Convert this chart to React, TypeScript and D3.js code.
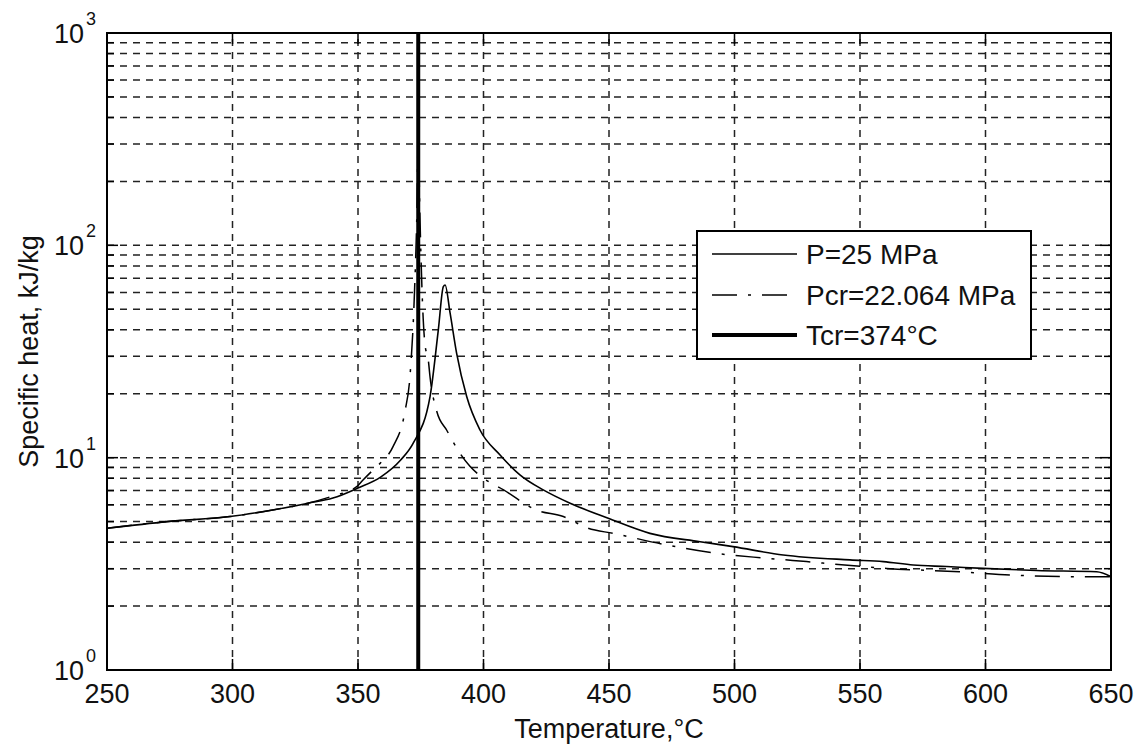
import React from "react";
import * as d3 from "d3";

const xTicks = [250, 300, 350, 400, 450, 500, 550, 600, 650];
const yMajor = [1, 10, 100, 1000];
const yExp = ["0", "1", "2", "3"];

const tP25 = [250, 274, 299, 316, 330, 340, 350, 359, 367, 372, 378.7, 382, 384, 384.7, 386.7, 389.3, 393.3, 398.6, 406.6, 414.5, 423.8, 434.5, 449.7, 466.3, 486.3, 499.4, 519.4, 546, 559.3, 571.2, 584.5, 599.1, 620.4, 644.3, 650];
const cpP25 = [4.65, 5.0, 5.28, 5.67, 6.1, 6.45, 7.2, 8.1, 9.75, 11.7, 19.4, 40, 63.9, 65, 47.9, 31, 19.4, 13.5, 10.3, 8.3, 7.05, 6.1, 5.18, 4.4, 4.02, 3.81, 3.48, 3.3, 3.24, 3.12, 3.07, 3.01, 2.94, 2.9, 2.75];

const tPcr = [250, 274, 299, 316, 330, 340, 349.5, 352, 357.4, 358.8, 364, 368.7, 370.7, 372.5, 373.5, 374, 374.6, 375.8, 376.7, 378, 378.7, 381.4, 385.3, 390.6, 394.6, 400, 408, 421, 431.8, 441.7, 451.7, 473, 492.9, 512.8, 528.7, 560.6, 589.8, 611, 638.9, 650];
const cpPcr = [4.65, 5.0, 5.28, 5.67, 6.1, 6.6, 7.3, 7.85, 9.07, 9.4, 11.3, 16.5, 24.1, 60, 150, 330, 150, 50, 34, 28.9, 24, 16.5, 13.5, 10.5, 9.1, 8.0, 7.05, 5.67, 5.28, 4.65, 4.4, 3.88, 3.54, 3.36, 3.24, 3.01, 2.9, 2.8, 2.75, 2.75];

const tCritical = 374;
const legendLabels = ["P=25 MPa", "Pcr=22.064 MPa", "Tcr=374°C"];
const xLabel = "Temperature,°C";
const yLabel = "Specific heat, kJ/kg";

const FONT = "'Liberation Sans', Arial, Helvetica, sans-serif";

export default function App() {
  const L = 107, R = 1111, T = 33, B = 670;
  const x = d3.scaleLinear().domain([250, 650]).range([L, R]);
  const y = d3.scaleLog().domain([1, 1000]).range([B, T]);

  const gridY: number[] = [];
  for (let k = 0; k < 3; k++) {
    for (let m = 1; m <= 9; m++) {
      const v = m * Math.pow(10, k);
      if (v === 1) continue;
      gridY.push(v);
    }
  }
  const allYTicks = [...gridY];
  const gridX = xTicks.filter((v) => v > 250 && v < 650);

  const line = d3
    .line<[number, number]>()
    .x((d) => x(d[0]))
    .y((d) => y(d[1]))
    .curve(d3.curveMonotoneX);

  const p25Path = line(tP25.map((t, i) => [t, cpP25[i]]) as [number, number][]) || "";
  const pcrPath = line(tPcr.map((t, i) => [t, cpPcr[i]]) as [number, number][]) || "";

  const dashDot = "25,11,3,11";
  const gridDash = "7,6";

  const legX = 697, legY = 231, legW = 334, legH = 128;
  const rows = [254, 295, 335];

  return (
    <svg
      width={1138}
      height={746}
      style={{ position: "absolute", left: 0, top: 0, background: "#fff" }}
      fontFamily={FONT}
    >
      <defs>
        <clipPath id="plotclip">
          <rect x={L} y={T} width={R - L} height={B - T} />
        </clipPath>
      </defs>
      <rect x={0} y={0} width={1138} height={746} fill="#fff" />
      {/* grid */}
      <g stroke="#222" strokeWidth={1.5} strokeDasharray={gridDash}>
        {gridY.map((v) => (
          <line key={"gy" + v} x1={L} x2={R} y1={y(v)} y2={y(v)} />
        ))}
        {gridX.map((v) => (
          <line key={"gx" + v} x1={x(v)} x2={x(v)} y1={B} y2={T} />
        ))}
      </g>
      {/* curves */}
      <g clipPath="url(#plotclip)" fill="none" stroke="#000">
        <path d={pcrPath} strokeWidth={1.5} strokeDasharray={dashDot} />
        <path d={p25Path} strokeWidth={1.6} />
        <line x1={x(tCritical)} x2={x(tCritical)} y1={T} y2={B} strokeWidth={4} />
      </g>
      {/* axes box */}
      <rect x={L} y={T} width={R - L} height={B - T} fill="none" stroke="#000" strokeWidth={2} />
      {/* ticks */}
      <g stroke="#000" strokeWidth={1.5}>
        {xTicks.map((v) => (
          <g key={"xt" + v}>
            <line x1={x(v)} x2={x(v)} y1={B} y2={B - 11} />
            <line x1={x(v)} x2={x(v)} y1={T} y2={T + 11} />
          </g>
        ))}
        {allYTicks.map((v) => {
          const len = yMajor.includes(v) ? 11 : 7;
          return (
            <g key={"yt" + v}>
              <line x1={L} x2={L + len} y1={y(v)} y2={y(v)} />
              <line x1={R} x2={R - len} y1={y(v)} y2={y(v)} />
            </g>
          );
        })}
      </g>
      {/* x tick labels */}
      <g fontSize={27} fill="#111" textAnchor="middle">
        {xTicks.map((v) => (
          <text key={"xl" + v} x={x(v)} y={703}>
            {v}
          </text>
        ))}
      </g>
      {/* y tick labels */}
      <g fill="#111">
        {yMajor.map((v, i) => (
          <g key={"yl" + v}>
            <text x={84} y={y(v) + 10} fontSize={27} textAnchor="end">
              10
            </text>
            <text x={86} y={y(v) - 8} fontSize={18} textAnchor="start">
              {yExp[i]}
            </text>
          </g>
        ))}
      </g>
      {/* axis labels */}
      <text x={(L + R) / 2} y={738} fontSize={27} textAnchor="middle" fill="#111">
        {xLabel}
      </text>
      <text
        transform={`translate(38, ${(T + B) / 2}) rotate(-90)`}
        fontSize={27}
        textAnchor="middle"
        fill="#111"
      >
        {yLabel}
      </text>
      {/* legend */}
      <rect x={legX} y={legY} width={legW} height={legH} fill="#fff" stroke="#000" strokeWidth={2} />
      <g stroke="#000" fill="none">
        <line x1={712} x2={797} y1={rows[0]} y2={rows[0]} strokeWidth={1.6} />
        <line x1={712} x2={797} y1={rows[1]} y2={rows[1]} strokeWidth={1.5} strokeDasharray={dashDot} />
        <line x1={712} x2={797} y1={rows[2]} y2={rows[2]} strokeWidth={4} />
      </g>
      <g fontSize={28} fill="#111">
        {legendLabels.map((lab, i) => (
          <text key={lab} x={806} y={rows[i] + 10}>
            {lab}
          </text>
        ))}
      </g>
    </svg>
  );
}
